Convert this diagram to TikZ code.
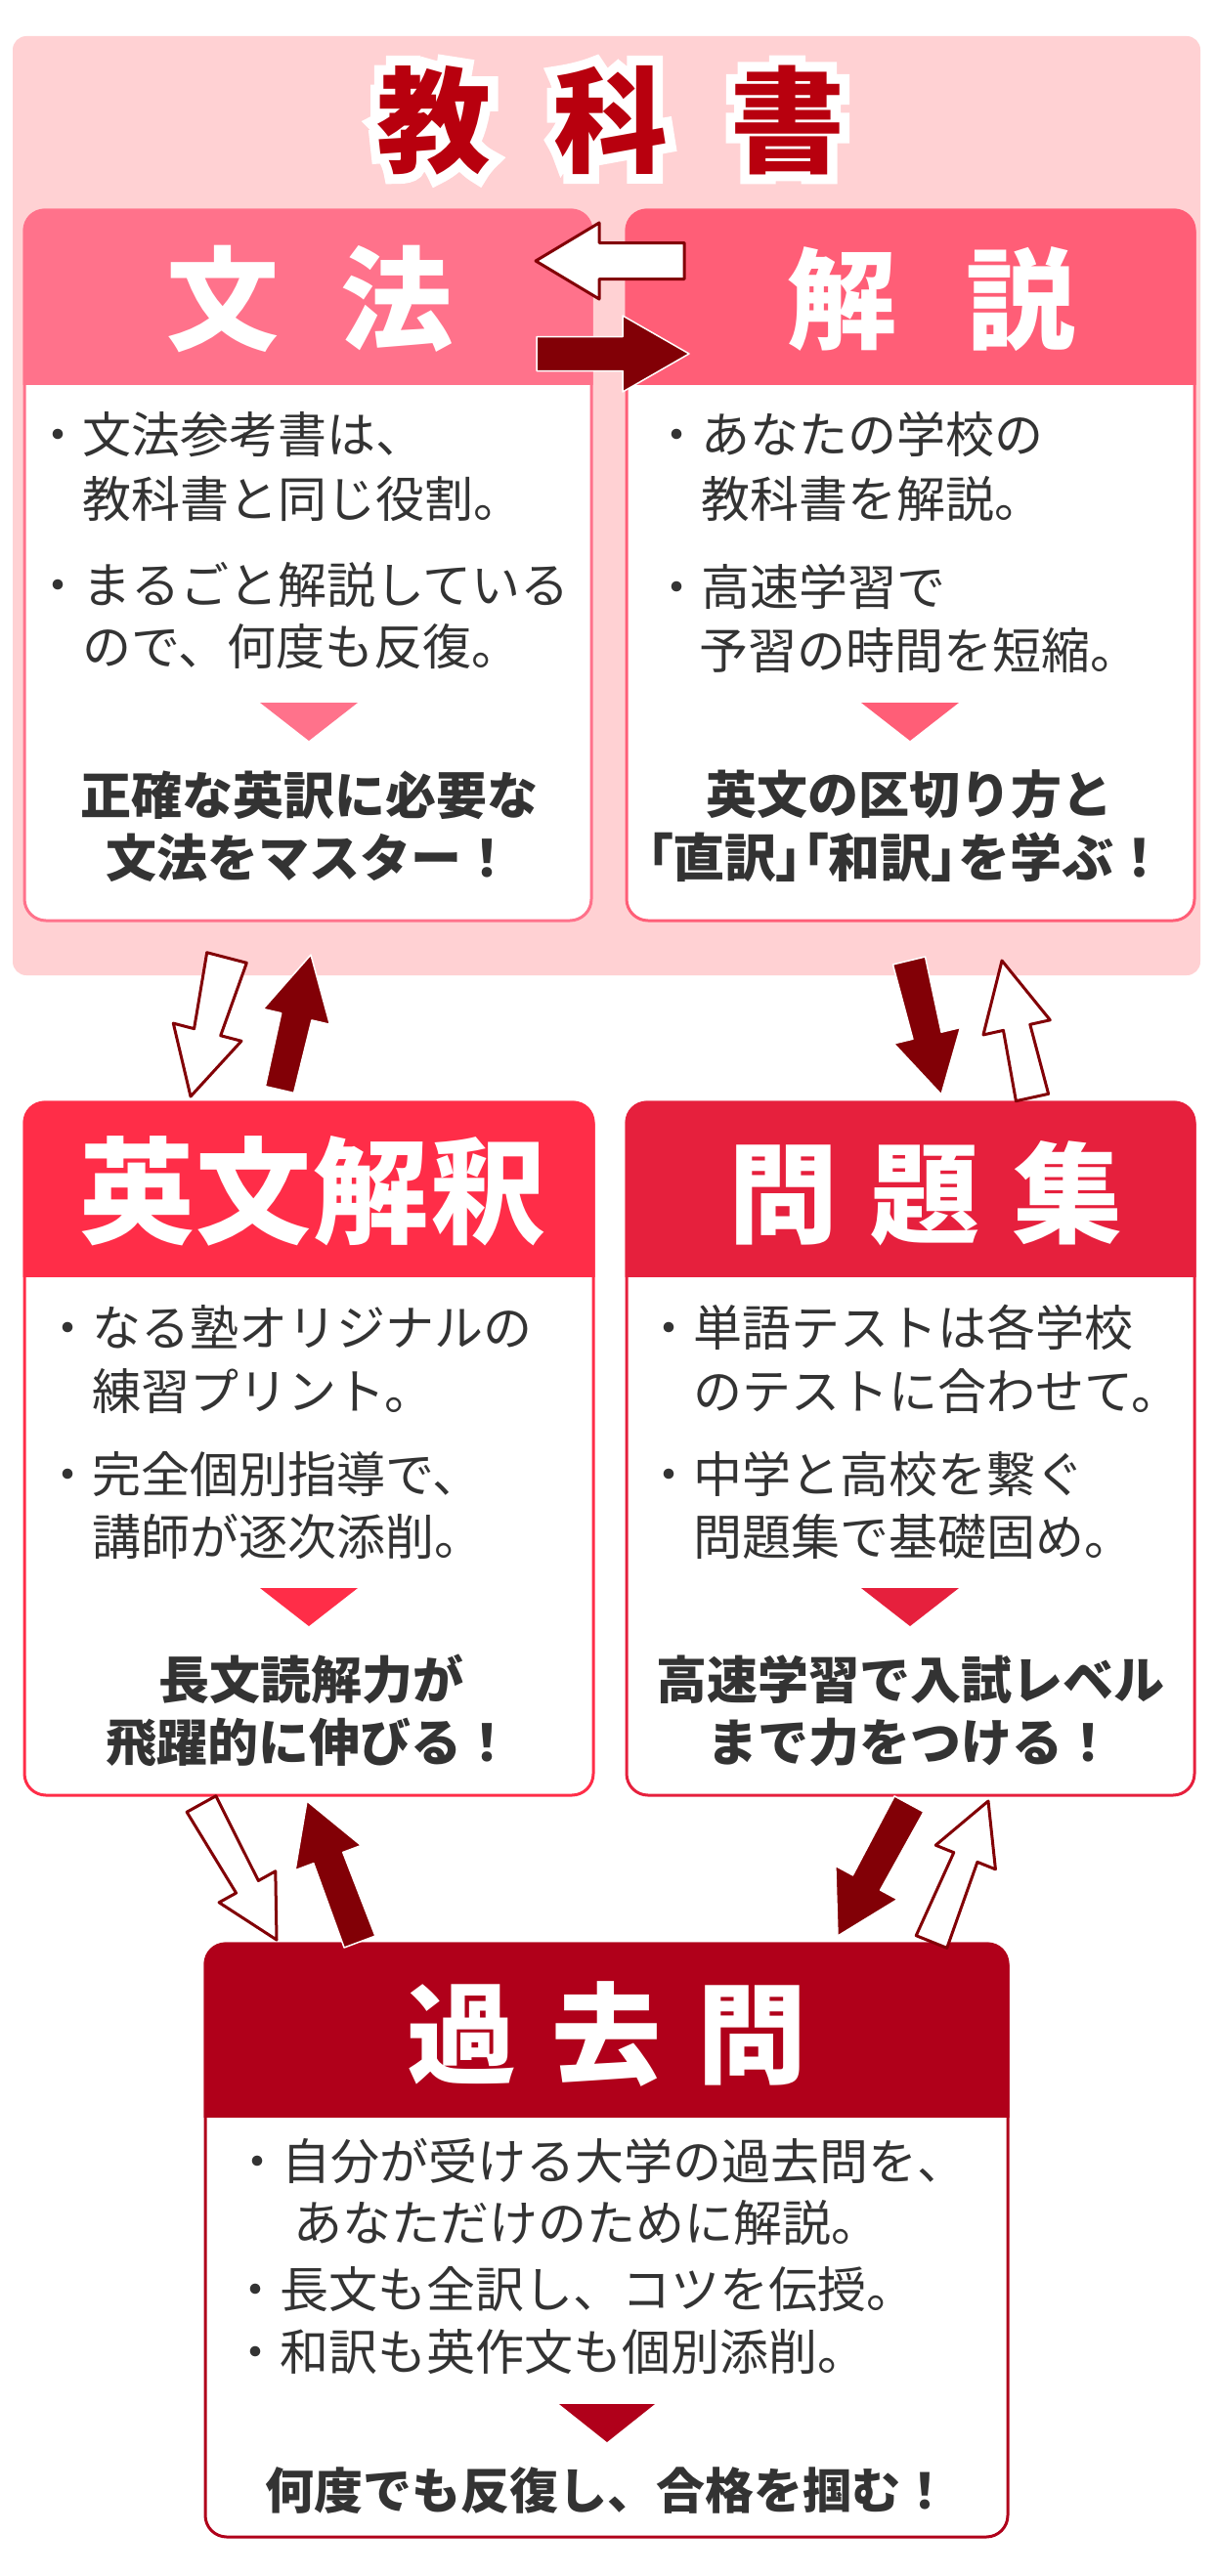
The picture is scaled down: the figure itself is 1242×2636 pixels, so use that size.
\documentclass[tikz,border=0pt]{standalone}
\usepackage{fontspec}
\newfontfamily\jp{Noto Sans CJK JP}
\newfontfamily\jphalo[BoldFeatures={FakeBold=17}]{Noto Sans CJK JP}
\newfontfamily\jppalt[RawFeature=+palt]{Noto Sans CJK JP}
\usetikzlibrary{calc}
\definecolor{bgpink}{HTML}{FFD1D3}
\definecolor{cBunpo}{HTML}{FF728B}
\definecolor{cKaisetsu}{HTML}{FF5E77}
\definecolor{cEibun}{HTML}{FF2D48}
\definecolor{cMondai}{HTML}{E6203D}
\definecolor{cKako}{HTML}{B0001A}
\definecolor{darkred}{HTML}{820006}
\definecolor{titlered}{HTML}{B8000E}
\definecolor{txt}{HTML}{333333}
\newcommand\fsz[1]{\fontsize{#1}{#1}\selectfont}
\newcommand\pbr[1]{{\jppalt\bfseries #1}}
\tikzset{
  body/.style={font=\jp\fsz{50}, text=txt, inner sep=0pt, anchor=base west},
  boldline/.style={font=\jp\bfseries\fsz{52}, text=txt, inner sep=0pt, anchor=base},
  headtext/.style={font=\jp\bfseries\fsz{#1}, text=white, inner sep=0pt, anchor=base},
  titletext/.style={font=\jp\bfseries\fsz{117}, inner sep=0pt, anchor=base},
  boxframe/.style={draw=#1, fill=white, line width=3pt, rounded corners=22pt, inner sep=0pt},
  whitearrow/.style={fill=white, draw=darkred, line width=3pt, line join=round},
  darkarrow/.style={fill=darkred, draw=white, line width=1.5pt, line join=round},
}
% #1 name, #2 colour, #3 x1, #4 top, #5 x2, #6 bottom, #7 header bottom
\newcommand\infobox[7]{%
  \node[boxframe=#2, minimum width={(#5)-(#3)}, minimum height={(#6)-(#4)}] (#1) at ({((#3)+(#5))/2},{((#4)+(#6))/2}) {};
  \begin{scope}
    \clip ({(#3)-4},{(#4)-4}) rectangle ({(#5)+4},{#7});
    \fill[#2, rounded corners=22pt] ({(#3)-1.5},{(#4)-1.5}) rectangle ({(#5)+1.5},{(#7)+40});
  \end{scope}}
% #1 style, #2 from, #3 to, #4 tail width, #5 neck width, #6 head width, #7 head length
\newcommand\blockarrow[7]{%
  \pgfpointdiff{\pgfpointanchor{#2}{center}}{\pgfpointanchor{#3}{center}}%
  \pgfgetlastxy{\bax}{\bay}%
  \pgfmathsetmacro\balen{veclen(\bax,\bay)}%
  \pgfmathsetmacro\baang{atan2(\bay,\bax)}%
  \pgfmathsetmacro\babk{\balen-(#7)}%
  \begin{scope}[shift={(#2)},rotate=\baang]
    \draw[#1] (0,{-(#4)/2}) -- (\babk,{-(#5)/2}) -- (\babk,{-(#6)/2}) -- (\balen,0) -- (\babk,{(#6)/2}) -- (\babk,{(#5)/2}) -- (0,{(#4)/2}) -- cycle;
  \end{scope}}
\begin{document}
\begin{tikzpicture}[x=1pt,y=-1pt]
\useasboundingbox (0,0) rectangle (1242,2636);
\fill[white] (0,0) rectangle (1242,2636);

% textbook background
\node[fill=bgpink, rounded corners=14pt, minimum width=1215, minimum height=961, inner sep=0pt] (textbook) at (620.5,517.5) {};

% title with white outline (stroked copy underneath)
\node[titletext, font=\jphalo\bfseries\fsz{117}, text=white] (titlehalo) at (625,167) {教\kern64pt科\kern64pt書};
\node[titletext, text=titlered] (title) at (625,167) {教\kern64pt科\kern64pt書};

% boxes
\infobox{bunpo}{cBunpo}{25}{215}{605}{942}{393}
\infobox{kaisetsu}{cKaisetsu}{641}{215}{1222}{942}{393}
\infobox{eibun}{cEibun}{25}{1128}{607}{1837}{1306}
\infobox{mondai}{cMondai}{641}{1128}{1222}{1837}{1306}
\infobox{kako}{cKako}{210}{1989}{1031}{2596}{2166}

% headers
\node[headtext=115] (bunpoH) at (317,349) {文\kern64pt法};
\node[headtext=112] (kaisetsuH) at (953,348) {解\kern71pt説};
\node[headtext=118] (eibunH) at (320,1263) {英\kern2pt文\kern2pt解\kern2pt釈};
\node[headtext=112] (mondaiH) at (947,1263) {問\kern34pt題\kern34pt集};
\node[headtext=112] (kakoH) at (621,2123) {過\kern37pt去\kern37pt問};

% bunpo body
\node[body] (b1) at (34,463) {・文法参考書は、};
\node[body] (b2) at (84,529) {教科書と同じ役割。};
\node[body] (b3) at (34,617) {・まるごと解説している};
\node[body] (b4) at (84,680) {ので、何度も反復。};
\fill[cBunpo] (266,719) -- (366,719) -- (316,758) -- cycle;
\node[boldline] (b5) at (316,833) {正確な英訳に必要な};
\node[boldline] (b6) at (316,897) {文法をマスター！};

% kaisetsu body
\node[body] (k1) at (667,463) {・あなたの学校の};
\node[body] (k2) at (717,529) {教科書を解説。};
\node[body] (k3) at (667,619) {・高速学習で};
\node[body] (k4) at (715,684) {予習の時間を短縮。};
\fill[cKaisetsu] (881,719) -- (981,719) -- (931,758) -- cycle;
\node[boldline] (k5) at (930,832) {英文の区切り方と};
\node[boldline, font=\jp\bfseries\fsz{53}] (k6) at (927,897) {\pbr{「}直訳\pbr{」「}和訳\pbr{」}を学ぶ！};

% eibun body
\node[body] (e1) at (44,1377) {・なる塾オリジナルの};
\node[body] (e2) at (94,1442) {練習プリント。};
\node[body] (e3) at (44,1527) {・完全個別指導で、};
\node[body] (e4) at (94,1591) {講師が逐次添削。};
\fill[cEibun] (266,1625) -- (366,1625) -- (316,1664) -- cycle;
\node[boldline] (e5) at (318,1738) {長文読解力が};
\node[boldline] (e6) at (316,1802) {飛躍的に伸びる！};

% mondai body
\node[body] (m1) at (659,1377) {・単語テストは各学校};
\node[body] (m2) at (709,1442) {のテストに合わせて。};
\node[body] (m3) at (659,1527) {・中学と高校を繋ぐ};
\node[body] (m4) at (709,1591) {問題集で基礎固め。};
\fill[cMondai] (881,1625) -- (981,1625) -- (931,1664) -- cycle;
\node[boldline] (m5) at (931,1738) {高速学習で入試レベル};
\node[boldline] (m6) at (931,1802) {まで力をつける！};

% kako body
\node[body] (p1) at (238,2230) {・自分が受ける大学の過去問を、};
\node[body] (p2) at (300,2293) {あなただけのために解説。};
\node[body] (p3) at (236,2361) {・長文も全訳し、コツを伝授。};
\node[body] (p4) at (236,2425) {・和訳も英作文も個別添削。};
\fill[cKako] (572,2460) -- (670,2460) -- (621,2499) -- cycle;
\node[boldline, font=\jp\bfseries\fsz{50}] (p5) at (621,2567) {何度でも反復し、合格を掴む！};

% arrow end points
\coordinate (a1s) at (700,267);  \coordinate (a1e) at (548,267);
\coordinate (a2s) at (549,362);  \coordinate (a2e) at (705,362);
\coordinate (a3s) at (232,980);  \coordinate (a3e) at (195,1122);
\coordinate (a4s) at (286,1115); \coordinate (a4e) at (318,977);
\coordinate (a5s) at (930,983);  \coordinate (a5e) at (963,1120);
\coordinate (a6s) at (1056,1123);\coordinate (a6e) at (1025,983);
\coordinate (a7s) at (206,1846); \coordinate (a7e) at (283,1985);
\coordinate (a8s) at (368,1987); \coordinate (a8e) at (314,1843);
\coordinate (a9s) at (930,1846); \coordinate (a9e) at (857,1981);
\coordinate (a10s) at (953,1987);\coordinate (a10e) at (1011,1843);

\blockarrow{whitearrow}{a1s}{a1e}{37}{37}{78}{65}
\blockarrow{darkarrow}{a2s}{a2e}{35}{35}{78}{68}
\blockarrow{whitearrow}{a3s}{a3e}{42}{28}{72}{68}
\blockarrow{darkarrow}{a4s}{a4e}{30}{32}{70}{65}
\blockarrow{darkarrow}{a5s}{a5e}{34}{30}{70}{62}
\blockarrow{whitearrow}{a6s}{a6e}{34}{28}{70}{70}
\blockarrow{whitearrow}{a7s}{a7e}{34}{26}{66}{62}
\blockarrow{darkarrow}{a8s}{a8e}{34}{32}{72}{62}
\blockarrow{darkarrow}{a9s}{a9e}{34}{32}{72}{62}
\blockarrow{whitearrow}{a10s}{a10e}{34}{26}{66}{62}
\end{tikzpicture}
\end{document}
